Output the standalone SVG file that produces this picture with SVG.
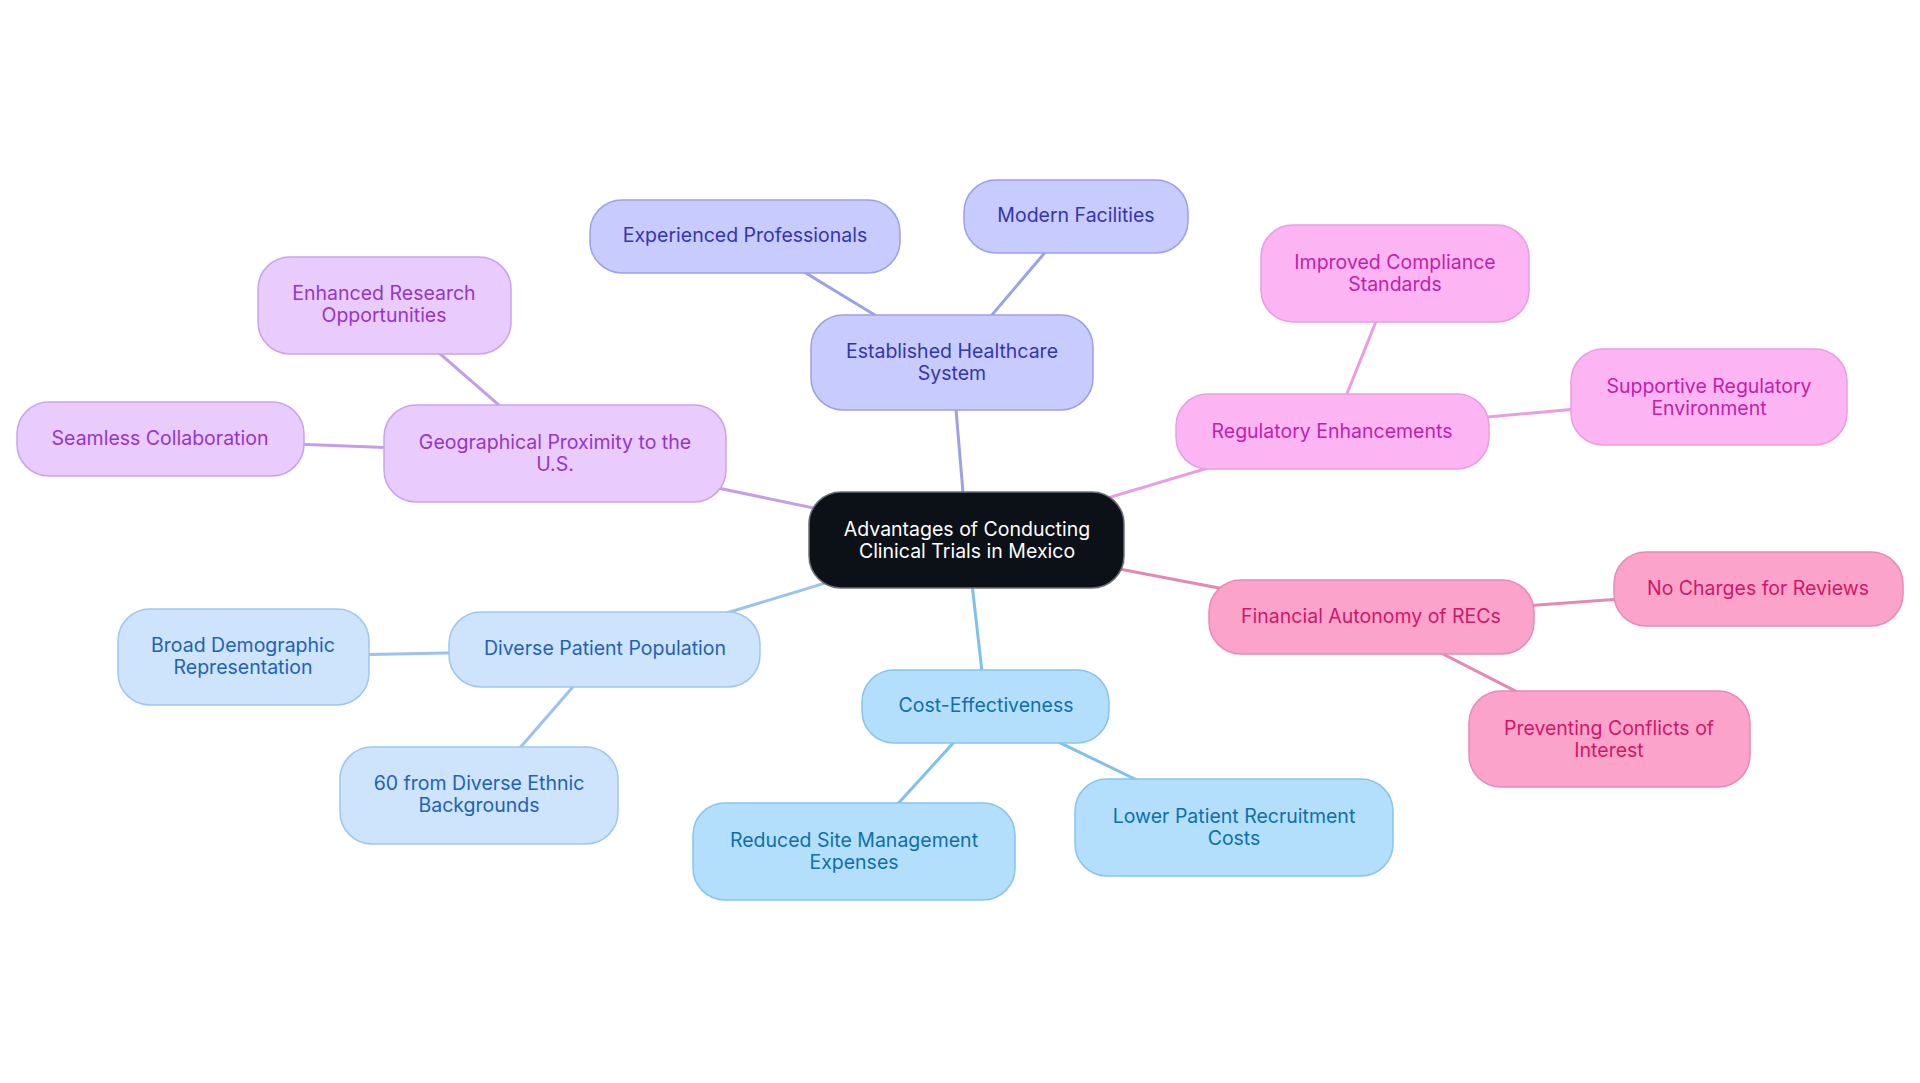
<svg xmlns="http://www.w3.org/2000/svg" width="1920" height="1083" viewBox="0 0 1920 1083">
<style>
text{font-family:Inter,"Noto Sans","Liberation Sans",sans-serif;font-size:19.5px;text-anchor:middle}
.edge{stroke-width:3;fill:none;stroke-linecap:round}
rect{stroke-width:1.5}
.root rect{fill:#0c1117;stroke:#6b7078}
.root text{fill:#ffffff}
.ind rect{fill:#c8cbfd;stroke:#9ba0ea}
.ind text{fill:#3535b0}
.mag rect{fill:#fcb4f3;stroke:#e89de2}
.mag text{fill:#c21fa8}
.pnk rect{fill:#fca3cc;stroke:#e68bb5}
.pnk text{fill:#cf1768}
.sky rect{fill:#b4dffc;stroke:#85c5ee}
.sky text{fill:#0d6fac}
.blu rect{fill:#cee3fc;stroke:#9fc6ef}
.blu text{fill:#1f62b6}
.pur rect{fill:#eacbfd;stroke:#c9a2ee}
.pur text{fill:#9436c9}
</style>
<rect width="1920" height="1083" fill="#ffffff"/>
<g id="connectors">
<line class="edge" stroke="#9ea1e6" x1="967" y1="540" x2="952" y2="362"/>
<line class="edge" stroke="#9ea1e6" x1="952" y1="362" x2="745" y2="236"/>
<line class="edge" stroke="#9ea1e6" x1="952" y1="362" x2="1076" y2="216"/>
<line class="edge" stroke="#ea9de2" x1="967" y1="540" x2="1332" y2="431"/>
<line class="edge" stroke="#ea9de2" x1="1332" y1="431" x2="1395" y2="274"/>
<line class="edge" stroke="#ea9de2" x1="1332" y1="431" x2="1709" y2="397"/>
<line class="edge" stroke="#e489b3" x1="967" y1="540" x2="1371" y2="617"/>
<line class="edge" stroke="#e489b3" x1="1371" y1="617" x2="1758" y2="589"/>
<line class="edge" stroke="#e489b3" x1="1371" y1="617" x2="1609" y2="739"/>
<line class="edge" stroke="#80c1ea" x1="967" y1="540" x2="986" y2="707"/>
<line class="edge" stroke="#80c1ea" x1="986" y1="707" x2="854" y2="852"/>
<line class="edge" stroke="#80c1ea" x1="986" y1="707" x2="1234" y2="827"/>
<line class="edge" stroke="#9dc3ec" x1="967" y1="540" x2="605" y2="650"/>
<line class="edge" stroke="#9dc3ec" x1="605" y1="650" x2="243" y2="657"/>
<line class="edge" stroke="#9dc3ec" x1="605" y1="650" x2="479" y2="795"/>
<line class="edge" stroke="#c59de9" x1="967" y1="540" x2="555" y2="454"/>
<line class="edge" stroke="#c59de9" x1="555" y1="454" x2="384" y2="305"/>
<line class="edge" stroke="#c59de9" x1="555" y1="454" x2="160" y2="439"/>
</g>
<g id="root" class="root"><rect x="809" y="492" width="315" height="96" rx="32"/><text x="967" y="536">Advantages of Conducting</text><text x="967" y="558">Clinical Trials in Mexico</text></g>
<g id="n-established" class="ind"><rect x="811" y="315" width="282" height="95" rx="32"/><text x="952" y="358">Established Healthcare</text><text x="952" y="380">System</text></g>
<g id="n-experienced" class="ind"><rect x="590" y="200" width="310" height="73" rx="32"/><text x="745" y="242">Experienced Professionals</text></g>
<g id="n-modern" class="ind"><rect x="964" y="180" width="224" height="73" rx="32"/><text x="1076" y="222">Modern Facilities</text></g>
<g id="n-regulatory" class="mag"><rect x="1176" y="394" width="313" height="75" rx="32"/><text x="1332" y="438">Regulatory Enhancements</text></g>
<g id="n-improved" class="mag"><rect x="1261" y="225" width="268" height="97" rx="32"/><text x="1395" y="269">Improved Compliance</text><text x="1395" y="291">Standards</text></g>
<g id="n-supportive" class="mag"><rect x="1571" y="349" width="276" height="96" rx="32"/><text x="1709" y="393">Supportive Regulatory</text><text x="1709" y="415">Environment</text></g>
<g id="n-financial" class="pnk"><rect x="1209" y="580" width="325" height="74" rx="32"/><text x="1371" y="623">Financial Autonomy of RECs</text></g>
<g id="n-nocharges" class="pnk"><rect x="1614" y="552" width="289" height="74" rx="32"/><text x="1758" y="595">No Charges for Reviews</text></g>
<g id="n-preventing" class="pnk"><rect x="1469" y="691" width="281" height="96" rx="32"/><text x="1609" y="735">Preventing Conflicts of</text><text x="1609" y="757">Interest</text></g>
<g id="n-cost" class="sky"><rect x="862" y="670" width="247" height="73" rx="32"/><text x="986" y="712">Cost-Effectiveness</text></g>
<g id="n-reduced" class="sky"><rect x="693" y="803" width="322" height="97" rx="32"/><text x="854" y="847">Reduced Site Management</text><text x="854" y="869">Expenses</text></g>
<g id="n-lower" class="sky"><rect x="1075" y="779" width="318" height="97" rx="32"/><text x="1234" y="823">Lower Patient Recruitment</text><text x="1234" y="845">Costs</text></g>
<g id="n-diverse" class="blu"><rect x="449" y="612" width="311" height="75" rx="32"/><text x="605" y="655">Diverse Patient Population</text></g>
<g id="n-broad" class="blu"><rect x="118" y="609" width="251" height="96" rx="32"/><text x="243" y="652">Broad Demographic</text><text x="243" y="674">Representation</text></g>
<g id="n-sixty" class="blu"><rect x="340" y="747" width="278" height="97" rx="32"/><text x="479" y="790">60 from Diverse Ethnic</text><text x="479" y="812">Backgrounds</text></g>
<g id="n-geo" class="pur"><rect x="384" y="405" width="342" height="97" rx="32"/><text x="555" y="449">Geographical Proximity to the</text><text x="555" y="471">U.S.</text></g>
<g id="n-enhanced" class="pur"><rect x="258" y="257" width="253" height="97" rx="32"/><text x="384" y="300">Enhanced Research</text><text x="384" y="322">Opportunities</text></g>
<g id="n-seamless" class="pur"><rect x="17" y="402" width="287" height="74" rx="32"/><text x="160" y="445">Seamless Collaboration</text></g>
</svg>
